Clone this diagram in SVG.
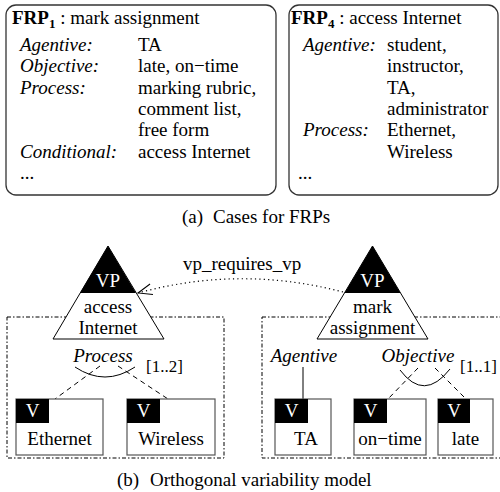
<svg xmlns="http://www.w3.org/2000/svg" width="500" height="492" viewBox="0 0 500 492" font-family="Liberation Serif, serif">
<style>
text{font-family:'Liberation Serif','Times New Roman',serif;font-size:19px;fill:#000}
.i{font-style:italic}
.b{font-weight:bold}
.w{fill:#fff}
.m{text-anchor:middle}
.card{fill:#fff;stroke:#333;stroke-width:1.3}
.grp{fill:none;stroke:#000;stroke-width:1;stroke-dasharray:4,2,1.5,2}
.vbox{fill:#fff;stroke:#555;stroke-width:1.2}
.vtag{fill:#000}
.tri{fill:#fff;stroke:#000;stroke-width:1}
.dash{fill:none;stroke:#000;stroke-width:1;stroke-dasharray:5,4}
.solid{fill:none;stroke:#000;stroke-width:1}
.dot{fill:none;stroke:#000;stroke-width:1.2;stroke-dasharray:1.2,3.2}
.card-label{font-size:17px}
</style>
<defs>
<marker id="open" viewBox="-16 -8 18 16" refX="0" refY="0" markerWidth="18" markerHeight="16" markerUnits="userSpaceOnUse" orient="auto">
<path d="M-14,-5.5 L0,0 L-14,5.5" fill="none" stroke="#000" stroke-width="1" stroke-dasharray="none"/>
</marker>
</defs>

<g id="frp1">
<rect class="card" x="6" y="5" width="270" height="190" rx="10"/>
<text x="12" y="24"><tspan class="b">FRP</tspan><tspan class="b" font-size="13" dy="4">1</tspan><tspan dy="-4"> : mark assignment</tspan></text>
<text class="i" x="20" y="51">Agentive:</text><text x="138" y="51">TA</text>
<text class="i" x="20" y="72">Objective:</text><text x="138" y="72">late, on−time</text>
<text class="i" x="20" y="94">Process:</text><text x="138" y="94">marking rubric,</text>
<text x="138" y="115">comment list,</text>
<text x="138" y="136">free form</text>
<text class="i" x="20" y="158">Conditional:</text><text x="138" y="158">access Internet</text>
<text x="20" y="179">...</text>
</g>

<g id="frp4">
<rect class="card" x="289" y="5" width="209" height="190" rx="10"/>
<text x="291" y="24"><tspan class="b">FRP</tspan><tspan class="b" font-size="13" dy="4">4</tspan><tspan dy="-4"> : access Internet</tspan></text>
<text class="i" x="303" y="51">Agentive:</text><text x="387" y="51">student,</text>
<text x="387" y="72">instructor,</text>
<text x="387" y="94">TA,</text>
<text x="387" y="115">administrator</text>
<text class="i" x="303" y="136">Process:</text><text x="387" y="136">Ethernet,</text>
<text x="387" y="158">Wireless</text>
<text x="298" y="179">...</text>
</g>

<g id="caption-a"><text x="182" y="223">(a)<tspan x="213">Cases for FRPs</tspan></text></g>

<g id="group-left"><rect class="grp" x="7" y="317" width="217" height="141"/></g>
<g id="group-right"><rect class="grp" x="262" y="317" width="240" height="141"/></g>

<g id="connectors">
<path class="dot" d="M343,292 Q240,265 138,293" marker-end="url(#open)"/>
<path class="dash" d="M100,366 L55,399"/>
<path class="dash" d="M118,366 L168,399"/>
<path class="solid" d="M75,367 Q105,387 135,367"/>
<path class="solid" d="M303,367 L303,399"/>
<path class="dash" d="M418,368 L388,399"/>
<path class="dash" d="M435,368 L466,399"/>
<path class="solid" d="M400,370 Q424,402 450,369"/>
</g>

<g id="vp-access">
<polygon class="tri" points="108,246 164,339 53,339"/>
<polygon fill="#000" points="108,246 136,293 80,293"/>
<text class="w m" x="108" y="287">VP</text>
<text class="m" x="108" y="313">access</text>
<text class="m" x="108" y="334">Internet</text>
</g>

<g id="vp-mark">
<polygon class="tri" points="372.5,246 428,339 317,339"/>
<polygon fill="#000" points="372.5,246 400.5,293 344.5,293"/>
<text class="w m" x="372.5" y="287">VP</text>
<text class="m" x="372.5" y="313">mark</text>
<text class="m" x="372.5" y="334">assignment</text>
</g>

<g id="label-requires"><text x="183" y="270">vp_requires_vp</text></g>
<g id="label-process"><text class="i m" x="103" y="362">Process</text><text class="card-label" x="146" y="372">[1..2]</text></g>
<g id="label-agentive"><text class="i m" x="304" y="362">Agentive</text></g>
<g id="label-objective"><text class="i m" x="418" y="362">Objective</text><text class="card-label" x="460" y="372">[1..1]</text></g>

<g id="v-ethernet">
<rect class="vbox" x="16" y="399" width="87" height="56"/>
<rect class="vtag" x="16" y="399" width="33" height="24"/>
<text class="w m" x="32.5" y="417">V</text>
<text class="m" x="59.5" y="445">Ethernet</text>
</g>
<g id="v-wireless">
<rect class="vbox" x="127" y="399" width="88" height="56"/>
<rect class="vtag" x="127" y="399" width="33" height="24"/>
<text class="w m" x="143.5" y="417">V</text>
<text class="m" x="171" y="445">Wireless</text>
</g>
<g id="v-ta">
<rect class="vbox" x="275" y="399" width="56" height="56"/>
<rect class="vtag" x="275" y="399" width="33" height="24"/>
<text class="w m" x="291.5" y="417">V</text>
<text class="m" x="306" y="445">TA</text>
</g>
<g id="v-ontime">
<rect class="vbox" x="354" y="399" width="72" height="56"/>
<rect class="vtag" x="354" y="399" width="33" height="24"/>
<text class="w m" x="370.5" y="417">V</text>
<text class="m" x="390" y="445">on−time</text>
</g>
<g id="v-late">
<rect class="vbox" x="438" y="399" width="55" height="56"/>
<rect class="vtag" x="438" y="399" width="32" height="24"/>
<text class="w m" x="454" y="417">V</text>
<text class="m" x="465.5" y="445">late</text>
</g>

<g id="caption-b"><text x="117" y="486">(b)<tspan x="150">Orthogonal variability model</tspan></text></g>
</svg>
